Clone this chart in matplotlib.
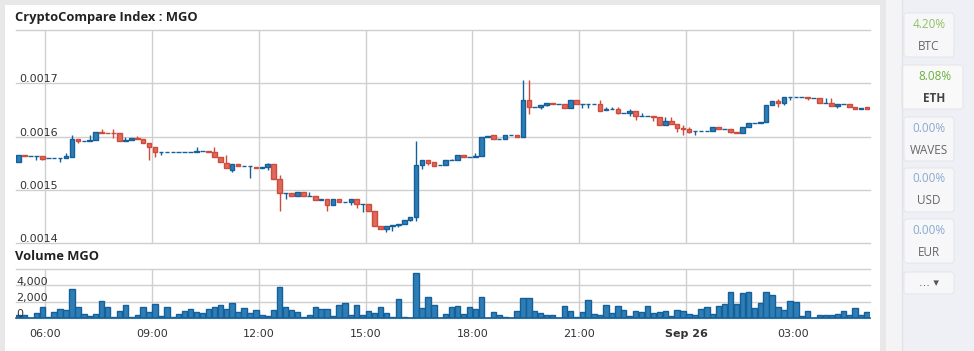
import matplotlib
matplotlib.use("Agg")
import matplotlib.pyplot as plt
import matplotlib.dates as mdates
from matplotlib.patches import Rectangle, FancyBboxPatch
import numpy as np
import pandas as pd

# --- datos: velas de 10 minutos, MGO (índice CryptoCompare) ---
open_ = [
    0.001552, 0.001565, 0.001564, 0.001564, 0.001563, 0.001560, 0.001560, 0.001560, 0.001560, 0.001561, 0.001595, 0.001591,
    0.001591, 0.001593, 0.001609, 0.001607, 0.001607, 0.001606, 0.001591, 0.001594, 0.001597, 0.001595, 0.001589, 0.001580,
    0.001572, 0.001572, 0.001572, 0.001572, 0.001572, 0.001572, 0.001572, 0.001574, 0.001574, 0.001572, 0.001562, 0.001551,
    0.001537, 0.001548, 0.001545, 0.001545, 0.001544, 0.001541, 0.001544, 0.001548, 0.001520, 0.001494, 0.001494, 0.001488,
    0.001496, 0.001489, 0.001488, 0.001481, 0.001484, 0.001471, 0.001484, 0.001477, 0.001477, 0.001484, 0.001473, 0.001473,
    0.001461, 0.001432, 0.001426, 0.001433, 0.001435, 0.001437, 0.001443, 0.001449, 0.001546, 0.001556, 0.001552, 0.001546,
    0.001546, 0.001556, 0.001556, 0.001565, 0.001561, 0.001561, 0.001563, 0.001599, 0.001603, 0.001595, 0.001595, 0.001603,
    0.001603, 0.001599, 0.001668, 0.001656, 0.001655, 0.001660, 0.001664, 0.001661, 0.001661, 0.001653, 0.001668, 0.001661,
    0.001661, 0.001661, 0.001661, 0.001650, 0.001651, 0.001651, 0.001644, 0.001644, 0.001649, 0.001638, 0.001638, 0.001638,
    0.001636, 0.001621, 0.001630, 0.001624, 0.001616, 0.001614, 0.001610, 0.001610, 0.001610, 0.001610, 0.001618, 0.001614,
    0.001614, 0.001608, 0.001606, 0.001618, 0.001625, 0.001625, 0.001628, 0.001659, 0.001667, 0.001664, 0.001674, 0.001674,
    0.001674, 0.001674, 0.001672, 0.001672, 0.001664, 0.001664, 0.001657, 0.001662, 0.001662, 0.001655, 0.001651, 0.001655,
]
high = [
    0.001565, 0.001565, 0.001564, 0.001564, 0.001563, 0.001560, 0.001560, 0.001560, 0.001569, 0.001604, 0.001595, 0.001591,
    0.001604, 0.001609, 0.001614, 0.001607, 0.001614, 0.001606, 0.001600, 0.001597, 0.001602, 0.001595, 0.001589, 0.001580,
    0.001572, 0.001572, 0.001572, 0.001572, 0.001572, 0.001572, 0.001580, 0.001574, 0.001574, 0.001581, 0.001562, 0.001565,
    0.001548, 0.001548, 0.001545, 0.001545, 0.001544, 0.001544, 0.001551, 0.001548, 0.001528, 0.001494, 0.001494, 0.001496,
    0.001496, 0.001496, 0.001488, 0.001484, 0.001484, 0.001484, 0.001484, 0.001477, 0.001484, 0.001484, 0.001473, 0.001473,
    0.001461, 0.001432, 0.001433, 0.001435, 0.001437, 0.001443, 0.001449, 0.001591, 0.001556, 0.001556, 0.001552, 0.001546,
    0.001556, 0.001558, 0.001565, 0.001565, 0.001561, 0.001569, 0.001599, 0.001602, 0.001603, 0.001595, 0.001603, 0.001603,
    0.001603, 0.001706, 0.001706, 0.001656, 0.001660, 0.001664, 0.001664, 0.001661, 0.001661, 0.001668, 0.001668, 0.001661,
    0.001661, 0.001661, 0.001668, 0.001656, 0.001655, 0.001656, 0.001644, 0.001652, 0.001649, 0.001644, 0.001638, 0.001638,
    0.001636, 0.001636, 0.001636, 0.001624, 0.001622, 0.001619, 0.001610, 0.001610, 0.001610, 0.001618, 0.001618, 0.001614,
    0.001614, 0.001608, 0.001618, 0.001625, 0.001625, 0.001628, 0.001659, 0.001667, 0.001670, 0.001674, 0.001674, 0.001674,
    0.001674, 0.001674, 0.001672, 0.001672, 0.001672, 0.001672, 0.001662, 0.001662, 0.001662, 0.001655, 0.001654, 0.001655,
]
low = [
    0.001552, 0.001564, 0.001564, 0.001556, 0.001556, 0.001560, 0.001560, 0.001552, 0.001560, 0.001561, 0.001588, 0.001591,
    0.001591, 0.001593, 0.001607, 0.001606, 0.001598, 0.001591, 0.001591, 0.001594, 0.001596, 0.001589, 0.001556, 0.001561,
    0.001566, 0.001572, 0.001572, 0.001572, 0.001572, 0.001572, 0.001572, 0.001574, 0.001572, 0.001562, 0.001552, 0.001542,
    0.001534, 0.001545, 0.001545, 0.001522, 0.001541, 0.001541, 0.001538, 0.001520, 0.001461, 0.001484, 0.001488, 0.001488,
    0.001488, 0.001489, 0.001481, 0.001481, 0.001460, 0.001471, 0.001477, 0.001477, 0.001472, 0.001467, 0.001459, 0.001461,
    0.001433, 0.001426, 0.001421, 0.001423, 0.001431, 0.001437, 0.001441, 0.001442, 0.001539, 0.001546, 0.001545, 0.001546,
    0.001546, 0.001556, 0.001556, 0.001561, 0.001561, 0.001561, 0.001563, 0.001599, 0.001595, 0.001595, 0.001595, 0.001603,
    0.001599, 0.001599, 0.001642, 0.001656, 0.001652, 0.001657, 0.001661, 0.001661, 0.001653, 0.001653, 0.001661, 0.001653,
    0.001653, 0.001661, 0.001649, 0.001650, 0.001651, 0.001642, 0.001644, 0.001638, 0.001632, 0.001638, 0.001638, 0.001629,
    0.001621, 0.001621, 0.001624, 0.001609, 0.001604, 0.001606, 0.001604, 0.001610, 0.001610, 0.001610, 0.001614, 0.001614,
    0.001606, 0.001606, 0.001606, 0.001618, 0.001625, 0.001625, 0.001628, 0.001659, 0.001655, 0.001660, 0.001668, 0.001674,
    0.001674, 0.001668, 0.001672, 0.001664, 0.001664, 0.001657, 0.001654, 0.001662, 0.001655, 0.001651, 0.001651, 0.001651,
]
close = [
    0.001565, 0.001564, 0.001564, 0.001564, 0.001559, 0.001560, 0.001560, 0.001560, 0.001563, 0.001595, 0.001591, 0.001591,
    0.001593, 0.001609, 0.001607, 0.001606, 0.001606, 0.001591, 0.001594, 0.001597, 0.001596, 0.001589, 0.001581, 0.001571,
    0.001572, 0.001572, 0.001572, 0.001572, 0.001572, 0.001572, 0.001574, 0.001574, 0.001572, 0.001562, 0.001552, 0.001542,
    0.001548, 0.001545, 0.001545, 0.001545, 0.001541, 0.001544, 0.001548, 0.001520, 0.001494, 0.001494, 0.001488, 0.001496,
    0.001488, 0.001489, 0.001481, 0.001484, 0.001471, 0.001484, 0.001477, 0.001477, 0.001484, 0.001473, 0.001473, 0.001461,
    0.001433, 0.001426, 0.001433, 0.001435, 0.001437, 0.001443, 0.001449, 0.001546, 0.001556, 0.001551, 0.001545, 0.001546,
    0.001556, 0.001556, 0.001565, 0.001561, 0.001561, 0.001563, 0.001599, 0.001602, 0.001595, 0.001595, 0.001603, 0.001603,
    0.001599, 0.001668, 0.001655, 0.001656, 0.001660, 0.001664, 0.001661, 0.001661, 0.001653, 0.001668, 0.001661, 0.001661,
    0.001661, 0.001661, 0.001649, 0.001651, 0.001651, 0.001644, 0.001644, 0.001649, 0.001638, 0.001638, 0.001638, 0.001636,
    0.001621, 0.001630, 0.001624, 0.001616, 0.001614, 0.001609, 0.001610, 0.001610, 0.001610, 0.001618, 0.001614, 0.001614,
    0.001608, 0.001606, 0.001618, 0.001625, 0.001625, 0.001628, 0.001659, 0.001667, 0.001664, 0.001674, 0.001674, 0.001674,
    0.001674, 0.001672, 0.001672, 0.001664, 0.001664, 0.001657, 0.001662, 0.001662, 0.001655, 0.001651, 0.001654, 0.001651,
]
volume = [
    450, 400, 0, 700, 1400, 100, 800, 1150, 1050, 3600, 1400, 550,
    320, 550, 2150, 1400, 100, 900, 1650, 100, 450, 1400, 800, 1800,
    300, 1400, 150, 550, 900, 1150, 800, 700, 1150, 1400, 1650, 1150,
    1900, 800, 1250, 650, 1050, 420, 300, 1050, 3850, 1400, 1050, 800,
    200, 380, 1400, 1150, 1150, 300, 1650, 1900, 420, 1650, 420, 920,
    620, 1400, 680, 200, 2400, 200, 0, 5500, 1280, 2600, 1650, 0,
    560, 1400, 1530, 560, 1400, 1150, 2600, 0, 820, 440, 200, 0,
    930, 2500, 2500, 930, 680, 440, 440, 0, 1530, 930, 100, 800,
    2260, 480, 360, 1560, 600, 1440, 960, 240, 840, 720, 1440, 600,
    720, 840, 240, 960, 840, 480, 360, 1080, 1320, 480, 1440, 1800,
    3230, 1800, 3110, 3240, 1200, 1920, 3240, 2870, 1320, 960, 2140, 2020,
    330, 930, 0, 440, 440, 440, 560, 930, 440, 1290, 440, 800,
]
times = pd.date_range("2017-09-25 05:15", periods=144, freq="10min")
tick_times = pd.date_range("2017-09-25 06:00", periods=8, freq="3h")
tick_labels = ["06:00", "09:00", "12:00", "15:00", "18:00", "21:00", "Sep 26", "03:00"]
price_ticks = [0.0014, 0.0015, 0.0016, 0.0017, 0.0018]
price_labels = ["0.0014", "0.0015", "0.0016", "0.0017"]
vol_ticks = [0, 2000, 4000, 6000]
vol_labels = ["0", "2,000", "4,000"]

# panel lateral: cambio % por moneda
monedas = ["BTC", "ETH", "WAVES", "USD", "EUR"]
cambios = ["4.20%", "8.08%", "0.00%", "0.00%", "0.00%"]

AZUL, AZUL_BORDE = "#2f7db5", "#14609a"
ROJO, ROJO_BORDE = "#e0695b", "#cf4b3c"
GRILLA = "#cfcfcf"

o = np.array(open_)
c = np.array(close)
h = np.array(high)
l = np.array(low)
x = mdates.date2num(times.to_pydatetime())
paso = 1 / 144
x0 = mdates.date2num(pd.Timestamp("2017-09-25 05:10").to_pydatetime())
x1 = mdates.date2num(pd.Timestamp("2017-09-26 05:10").to_pydatetime())
xt = mdates.date2num(tick_times.to_pydatetime())

W, H = 974, 351
fig = plt.figure(figsize=(W / 100, H / 100), dpi=100, facecolor="#e8e8e8")

# fondo y paneles en coordenadas de píxel
bg = fig.add_axes([0, 0, 1, 1])
bg.set_xlim(0, W)
bg.set_ylim(H, 0)
bg.axis("off")
bg.add_patch(Rectangle((5, 5), 875, 346, color="white", lw=0))
bg.add_patch(Rectangle((886, 0), 16, 351, color="#f4f4f6", lw=0))
bg.add_patch(Rectangle((902, 0), 72, 351, color="#eef0f5", lw=0))
bg.plot([902, 902], [0, 351], color="#e2e3e8", lw=1)
bg.text(15, 17, "CryptoCompare Index : MGO", fontsize=9.3, fontweight="bold",
        family=["Open Sans", "DejaVu Sans"], color="#222222", va="center")
bg.text(15, 257, "Volume MGO", fontsize=9.3, fontweight="bold",
        family=["Open Sans", "DejaVu Sans"], color="#222222", va="center")

ys = [13, 65, 117, 168, 219]
for i, (m, p) in enumerate(zip(monedas, cambios)):
    bx, bw = (902, 61) if m == "ETH" else (904, 50)
    bg.add_patch(FancyBboxPatch((bx, ys[i]), bw, 44, boxstyle="round,pad=0,rounding_size=3",
                                fc="#f7f7f9" if m != "ETH" else "#f9f9fa", ec="#e6e7ec", lw=0.8))
    cx = bx + bw / 2 + (2 if m == "ETH" else 0)
    col_p = "#8cc163" if m == "BTC" else ("#6aaf3d" if m == "ETH" else "#86abd0")
    bg.text(cx, ys[i] + 11, p, fontsize=8.5, color=col_p, ha="center", va="center",
            family=["Open Sans", "DejaVu Sans"])
    bg.text(cx, ys[i] + 33, m, fontsize=8.5, color="#444444" if m == "ETH" else "#666666",
            fontweight="bold" if m == "ETH" else "normal", ha="center", va="center",
            family=["Open Sans", "DejaVu Sans"])
bg.add_patch(FancyBboxPatch((904, 272), 50, 22, boxstyle="round,pad=0,rounding_size=3",
                            fc="#f7f7f9", ec="#e6e7ec", lw=0.8))
bg.text(929, 283, "... \u25be", fontsize=8, color="#555555", ha="center", va="center",
        family=["DejaVu Sans"])

def rect_px(left, top, right, bottom):
    return [left / W, 1 - bottom / H, (right - left) / W, (bottom - top) / H]

# --- precio ---
ax = fig.add_axes(rect_px(15.6, 30, 870, 243.3))
ax.set_facecolor("none")
ax.set_xlim(x0, x1)
ax.set_ylim(0.0014, 0.0018)
for v in price_ticks:
    ax.axhline(v, color=GRILLA, lw=1, zorder=0, clip_on=False)
for v in xt:
    ax.axvline(v, color=GRILLA, lw=1, zorder=0)
sube = c >= o
ax.vlines(x[sube], l[sube], h[sube], color=AZUL_BORDE, lw=1, zorder=2)
ax.vlines(x[~sube], l[~sube], h[~sube], color=ROJO_BORDE, lw=1, zorder=2)
ax.bar(x[sube], np.abs(c - o)[sube], bottom=np.minimum(o, c)[sube], width=paso * 0.78,
       color=AZUL, edgecolor=AZUL_BORDE, lw=1, zorder=3)
ax.bar(x[~sube], np.abs(c - o)[~sube], bottom=np.minimum(o, c)[~sube], width=paso * 0.78,
       color=ROJO, edgecolor=ROJO_BORDE, lw=1, zorder=3)
for v, t in zip(price_ticks, price_labels):
    ax.annotate(t, xy=(0, v), xycoords=("axes fraction", "data"), xytext=(2.5, -0.8),
                textcoords="offset points", fontsize=8, color="#333333", va="bottom")
ax.set_xticks([])
ax.set_yticks([])
for s in ax.spines.values():
    s.set_visible(False)

# --- volumen ---
ax2 = fig.add_axes(rect_px(15.6, 269, 870, 318.3))
ax2.set_facecolor("none")
ax2.set_xlim(x0, x1)
ax2.set_ylim(0, 6000)
for v in vol_ticks:
    ax2.axhline(v, color=GRILLA, lw=1, zorder=0, clip_on=False)
for v in xt:
    ax2.axvline(v, color=GRILLA, lw=1, zorder=0)
ax2.bar(x, volume, width=paso * 0.9, color=AZUL, edgecolor=AZUL_BORDE, lw=1, zorder=3)
ax2.axhline(0, color=AZUL_BORDE, lw=1.2, zorder=4, clip_on=False)
for v, t in zip(vol_ticks, vol_labels):
    ax2.annotate(t, xy=(0, v), xycoords=("axes fraction", "data"), xytext=(0.5, -0.8),
                 textcoords="offset points", fontsize=8, color="#333333", va="bottom", zorder=5)
ax2.set_yticks([])
ax2.set_xticks(xt)
ax2.set_xticklabels(tick_labels, fontsize=8, color="#333333")
for lbl in ax2.get_xticklabels():
    if lbl.get_text() == "Sep 26":
        lbl.set_fontweight("bold")
ax2.tick_params(axis="x", length=0, pad=8)
for s in ax2.spines.values():
    s.set_visible(False)
bg.set_zorder(0)
ax.set_zorder(1)
ax2.set_zorder(1)

fig.savefig("out.png", dpi=100, facecolor=fig.get_facecolor())
